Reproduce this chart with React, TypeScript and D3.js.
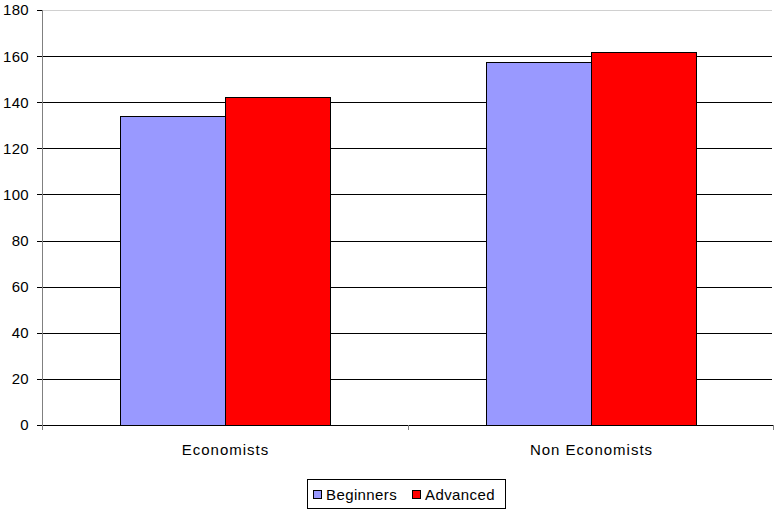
import React from "react";
import * as d3 from "d3";

const categories = ["Economists", "Non Economists"];
const seriesNames = ["Beginners", "Advanced"];
const beginners = [134.2, 157.3];
const advanced = [142.1, 161.8];
const yTicks = [0, 20, 40, 60, 80, 100, 120, 140, 160, 180];
const colors = ["#9999FF", "#FF0000"];

const W = 774;
const H = 511;
const margin = { left: 42, right: 0, top: 10, bottom: 86 };

export default function App() {
  const x0 = d3
    .scaleBand<string>()
    .domain(categories)
    .range([margin.left, W - margin.right])
    .paddingInner(0)
    .paddingOuter(0);
  const inner = 0.5735;
  const y = d3.scaleLinear().domain([0, 180]).range([H - margin.bottom, margin.top]);
  const series = [beginners, advanced];
  const font = "Liberation Sans, Arial, sans-serif";
  const bw = x0.bandwidth();
  const groupW = bw * inner;
  const barW = groupW / 2;

  return (
    <svg
      width={W}
      height={H}
      style={{ position: "absolute", left: 0, top: 0, background: "#fff" }}
      fontFamily={font}
    >
      {/* grid lines */}
      {yTicks.map((t) => (
        <line
          key={"g" + t}
          x1={margin.left}
          x2={W - 2}
          y1={Math.round(y(t)) + 0.5}
          y2={Math.round(y(t)) + 0.5}
          stroke={t === 180 ? "#d0d0d0" : "#000"}
          strokeWidth={1}
        />
      ))}
      {/* bars */}
      {categories.map((c, i) => {
        const gx = (x0(c) as number) + (bw - groupW) / 2;
        return series.map((s, j) => (
          <rect
            key={c + j}
            x={Math.round(gx + j * barW) + 0.5}
            y={Math.round(y(s[i])) + 0.5}
            width={Math.round(barW)}
            height={Math.round(y(0)) - Math.round(y(s[i]))}
            fill={colors[j]}
            stroke="#000"
            strokeWidth={1}
          />
        ));
      })}
      {/* y axis */}
      <line
        x1={margin.left + 0.5}
        x2={margin.left + 0.5}
        y1={y(180)}
        y2={y(0)}
        stroke="#808080"
      />
      {yTicks.map((t) => (
        <g key={"t" + t}>
          <line
            x1={margin.left - 5}
            x2={margin.left}
            y1={Math.round(y(t)) + 0.5}
            y2={Math.round(y(t)) + 0.5}
            stroke="#000"
          />
          <text
            x={margin.left - 13}
            y={y(t)}
            dy="0.36em"
            textAnchor="end"
            fontSize={15}
            letterSpacing={0.3}
            fill="#000"
          >
            {t}
          </text>
        </g>
      ))}
      {/* x axis */}
      <line
        x1={margin.left}
        x2={W}
        y1={Math.round(y(0)) + 0.5}
        y2={Math.round(y(0)) + 0.5}
        stroke="#000"
      />
      {[margin.left, margin.left + bw, margin.left + 2 * bw - 1].map((tx, k) => (
        <line
          key={"xt" + k}
          x1={Math.round(tx) + 0.5}
          x2={Math.round(tx) + 0.5}
          y1={y(0)}
          y2={y(0) + 5}
          stroke="#808080"
        />
      ))}
      {categories.map((c) => (
        <text
          key={"l" + c}
          x={(x0(c) as number) + bw / 2 + 0.5}
          y={454.5}
          textAnchor="middle"
          fontSize={15}
          letterSpacing={1}
          fill="#000"
        >
          {c}
        </text>
      ))}
      {/* legend */}
      <rect x={307.5} y={479.5} width={198} height={29} fill="#fff" stroke="#000" />
      {seriesNames.map((n, j) => {
        const lx = j === 0 ? 313 : 412;
        return (
          <g key={"lg" + n}>
            <rect
              x={lx + 0.5}
              y={490.5}
              width={8}
              height={8}
              fill={colors[j]}
              stroke="#000"
            />
            <text x={lx + 13} y={499.5} fontSize={15} letterSpacing={0.4} fill="#000">
              {n}
            </text>
          </g>
        );
      })}
    </svg>
  );
}
